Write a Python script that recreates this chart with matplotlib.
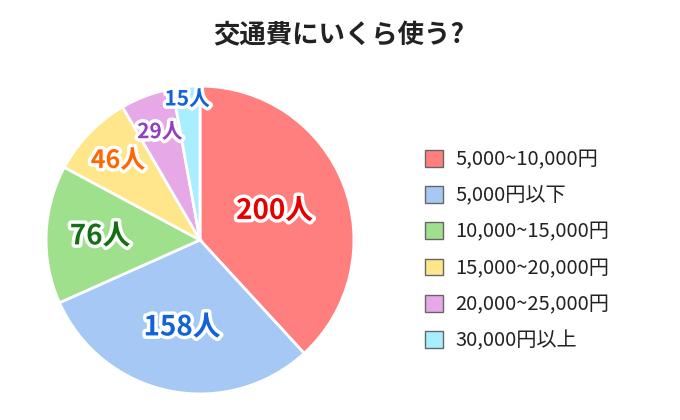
import matplotlib.pyplot as plt
import matplotlib.patheffects as pe
import numpy as np

plt.rcParams['font.family'] = ['Noto Sans CJK JP', 'DejaVu Sans']

# data
categories = ['5,000~10,000円', '5,000円以下', '10,000~15,000円',
              '15,000~20,000円', '20,000~25,000円', '30,000円以上']
counts = [200, 158, 76, 46, 29, 15]

# style
colors = ['#FF7F7F', '#A6C8F4', '#9EE08C', '#FFE68A', '#E6A8E6', '#A8EEFF']
label_colors = ['#E60000', '#1262D8', '#157015', '#FF6600', '#9040C0', '#1262D8']
label_sizes = [20, 20, 20, 18, 15, 15]
label_radii = [0.52, 0.58, 0.65, 0.74, 0.75, 0.92]

W, H = 680, 420
fig = plt.figure(figsize=(W / 100, H / 100), dpi=100)

cx, cy, r = 200, 240, 157
ax = fig.add_axes([(cx - r) / W, (H - cy - r) / H, 2 * r / W, 2 * r / H])
wedges, _ = ax.pie(counts, colors=colors, startangle=90, counterclock=False,
                   radius=1, wedgeprops=dict(edgecolor='white', linewidth=2))
ax.set_xlim(-1.02, 1.02)
ax.set_ylim(-1.02, 1.02)
ax.set_aspect('equal')
ax.axis('off')

for w, n, c, s, rr in zip(wedges, counts, label_colors, label_sizes, label_radii):
    ang = np.deg2rad((w.theta1 + w.theta2) / 2)
    ax.text(rr * np.cos(ang), rr * np.sin(ang), f'{n}人', ha='center', va='center',
            fontsize=s, fontweight='bold', color=c,
            path_effects=[pe.withStroke(linewidth=5, foreground='white')])

fig.text(339 / W, 1 - 36 / H, '交通費にいくら使う?', ha='center', va='center',
         fontsize=19, fontweight='bold', color='#222222')

handles = [plt.Rectangle((0, 0), 1, 1, facecolor=c, edgecolor='#666666', linewidth=1)
           for c in colors]
fig.legend(handles, categories, loc='upper left', bbox_to_anchor=(407 / W, 1 - 131 / H),
           frameon=False, fontsize=14.5, handlelength=0.9, handleheight=0.9,
           handletextpad=0.6, labelspacing=0.76, labelcolor='#222222')

fig.savefig('out.png', dpi=100)
